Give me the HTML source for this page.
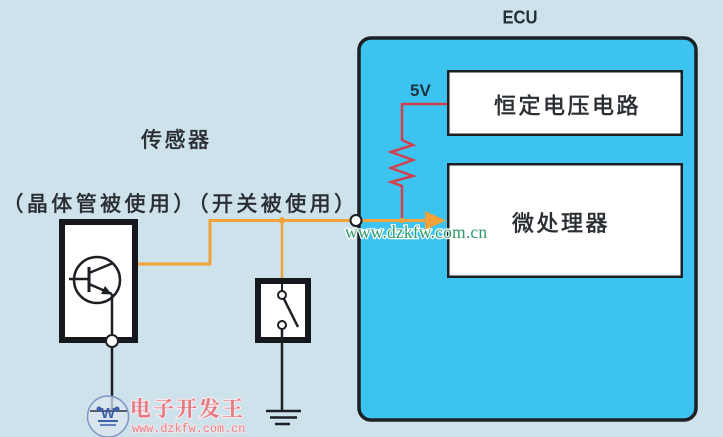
<!DOCTYPE html>
<html>
<head>
<meta charset="utf-8">
<style>
html,body{margin:0;padding:0;background:#cde2eb;}
svg{display:block;}
</style>
</head>
<body>
<svg width="723" height="437" viewBox="0 0 723 437" xmlns="http://www.w3.org/2000/svg">
  <rect x="0" y="0" width="723" height="437" fill="#cde2eb"/>

  <!-- ECU box -->
  <rect x="359" y="38" width="337" height="382" rx="12" ry="12" fill="#3cc3ef" stroke="#1c1f24" stroke-width="3.5"/>
  <text x="520" y="23.5" text-anchor="middle" font-family="Liberation Sans, sans-serif" font-weight="bold" font-size="18" fill="#23303a" textLength="35" lengthAdjust="spacingAndGlyphs">ECU</text>

  <!-- inner boxes -->
  <rect x="448.25" y="71.25" width="233.5" height="63.5" fill="#ffffff" stroke="#1c1f24" stroke-width="2.5"/>
  <rect x="448.25" y="164.25" width="233.5" height="112.5" fill="#ffffff" stroke="#1c1f24" stroke-width="2.5"/>

  <g font-family="Liberation Sans, 'Noto Sans CJK SC', sans-serif" font-size="22" fill="#2b2f33" stroke="#2b2f33" stroke-width="0.6">
    <text x="494 518.5 543 567.5 592 616.5" y="113.5">恒定电压电路</text>
    <text x="512 536.5 561 585.5" y="231">微处理器</text>
  </g>

  <!-- 5V and resistor -->
  <text x="410" y="96" font-family="Liberation Sans, sans-serif" font-weight="bold" font-size="17" fill="#1d3340">5V</text>
  <path d="M447 104 H402 V140 L413 145 L391 152 L413 160 L391 168 L413 176 L391 182 L402 186 V220.5" fill="none" stroke="#d43f4d" stroke-width="2.5" stroke-linejoin="miter"/>

  <!-- Sensor labels -->
  <g font-family="Liberation Sans, 'Noto Sans CJK SC', sans-serif" font-size="21" fill="#2b2f33" stroke="#2b2f33" stroke-width="0.6">
    <text x="141 164.5 188" y="147">传感器</text>
    <text x="2.5 26.9 51.3 75.7 100.1 124.5 148.9 173.3" y="211">（晶体管被使用）</text>
    <text x="187.6 212 236.4 260.8 285.2 309.6 334" y="211">（开关被使用）</text>
  </g>

  <!-- orange wires -->
  <path d="M112 264 H210 V220.5 H351" fill="none" stroke="#f3a13a" stroke-width="3"/>
  <line x1="282" y1="220.5" x2="282" y2="280" stroke="#f3a13a" stroke-width="2.5"/>
  <circle cx="282" cy="220.5" r="3.2" fill="#f3a13a"/>
  <line x1="361" y1="220.5" x2="428" y2="220.5" stroke="#f3a13a" stroke-width="3"/>
  <circle cx="402" cy="220.5" r="2.6" fill="#f3a13a"/>
  <polygon points="425,211 446,220.5 425,230" fill="#f3a13a"/>

  <!-- terminal circle -->
  <circle cx="356" cy="220.5" r="5.5" fill="#ffffff" stroke="#1c1f24" stroke-width="2"/>

  <!-- Transistor box -->
  <rect x="62" y="222" width="73" height="118" fill="#ffffff" stroke="#15181c" stroke-width="6"/>
  <circle cx="97" cy="280" r="23" fill="none" stroke="#1c1f24" stroke-width="2.5"/>
  <line x1="69" y1="279" x2="89" y2="279" stroke="#1c1f24" stroke-width="2.5"/>
  <line x1="89" y1="267" x2="89" y2="292" stroke="#1c1f24" stroke-width="3"/>
  <line x1="89" y1="273" x2="112" y2="263.5" stroke="#1c1f24" stroke-width="2.5"/>
  <line x1="89" y1="284" x2="112" y2="294" stroke="#1c1f24" stroke-width="2.5"/>
  <polygon points="112,294.5 101,294 105,286" fill="#1c1f24"/>
  <line x1="112" y1="294" x2="112" y2="335" stroke="#1c1f24" stroke-width="2.5"/>
  <line x1="112" y1="347" x2="112" y2="411" stroke="#1c1f24" stroke-width="2.5"/>
  <circle cx="112" cy="341" r="6" fill="#ffffff" stroke="#1c1f24" stroke-width="2"/>

  <!-- Switch box -->
  <rect x="258" y="281" width="50" height="59" fill="#ffffff" stroke="#15181c" stroke-width="6"/>
  <line x1="282" y1="284" x2="282" y2="291" stroke="#1c1f24" stroke-width="2"/>
  <circle cx="282" cy="295" r="4" fill="#ffffff" stroke="#1c1f24" stroke-width="2"/>
  <line x1="284" y1="299" x2="298" y2="327" stroke="#1c1f24" stroke-width="2.5"/>
  <circle cx="282" cy="325" r="4" fill="#ffffff" stroke="#1c1f24" stroke-width="2"/>
  <line x1="282" y1="329" x2="282" y2="411" stroke="#1c1f24" stroke-width="2.5"/>
  <line x1="266" y1="411" x2="301" y2="411" stroke="#1c1f24" stroke-width="2.5"/>
  <line x1="270" y1="417.5" x2="297" y2="417.5" stroke="#1c1f24" stroke-width="2.5"/>
  <line x1="275" y1="424" x2="290" y2="424" stroke="#1c1f24" stroke-width="2.5"/>

  <!-- green watermark -->
  <text x="345" y="238" font-family="Liberation Serif, serif" font-size="17.5" letter-spacing="0.2" fill="#2f9a6a" stroke="#ffffff" stroke-width="2.5" paint-order="stroke" stroke-linejoin="round">www.dzkfw.com.cn</text>

  <!-- bottom-left logo watermark -->
  <circle cx="108" cy="416.5" r="20.5" fill="#dbe6ef" fill-opacity="0.75" stroke="#7f96c6" stroke-width="1.5"/>
  <line x1="90" y1="411" x2="127" y2="411" stroke="#55606c" stroke-width="2"/>
  <text x="108" y="418" text-anchor="middle" font-family="Liberation Sans, sans-serif" font-weight="bold" font-size="15" fill="#3d5ea8">W</text>
  <circle cx="99" cy="409" r="2.5" fill="#3d5ea8"/>
  <circle cx="117" cy="409" r="2.5" fill="#3d5ea8"/>
  <line x1="98" y1="421" x2="118" y2="421" stroke="#3d5ea8" stroke-width="2"/>
  <line x1="100" y1="425" x2="116" y2="425" stroke="#3d5ea8" stroke-width="1.5"/>
  <text x="130 153 176 199 222" y="416" font-family="'Noto Serif CJK SC', serif" font-weight="bold" font-size="21" fill="#e27a82" stroke="#f6e8ec" stroke-width="2.5" paint-order="stroke">电子开发王</text>
  <text x="132" y="432" font-family="Liberation Mono, monospace" font-size="11.8" fill="#e8808a" stroke="#f4e6ea" stroke-width="2" paint-order="stroke">www.dzkfw.com.cn</text>
</svg>
</body>
</html>
